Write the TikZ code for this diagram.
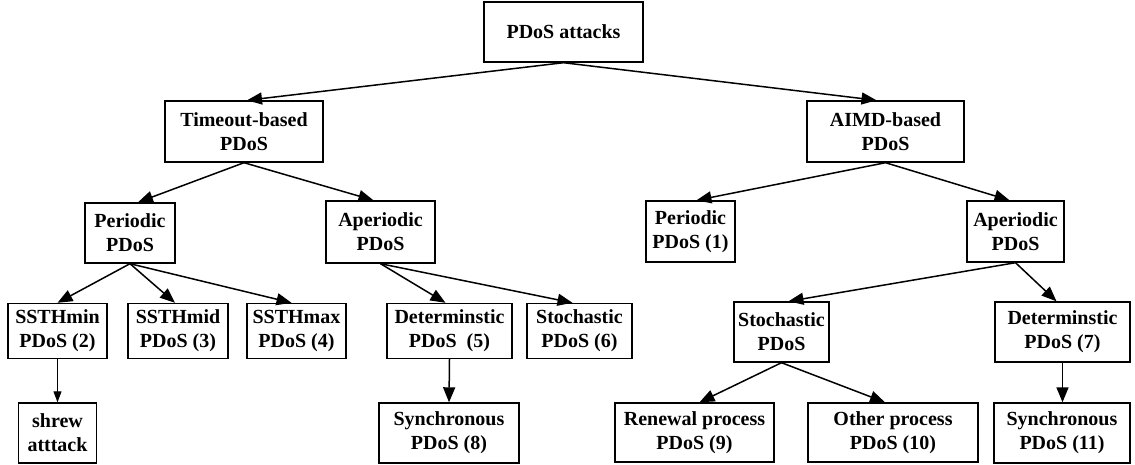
\documentclass[tikz,border=0pt]{standalone}
\usepackage{fontspec}
\setmainfont{Liberation Serif}
\usetikzlibrary{arrows.meta}
\begin{document}
\begin{tikzpicture}[x=1pt,y=-1pt,
  box/.style={draw, line width=1.4pt, rectangle, align=center, inner sep=0pt,
    font=\fontsize{20}{24}\selectfont\bfseries},
  link/.style={line width=1.5pt, -{Triangle[length=15pt,width=12pt]}},
  thinlink/.style={line width=0.9pt, -{Triangle[length=11pt,width=8pt]}}]
\useasboundingbox (0,0) rectangle (1135,465);

% level 0
\node[box, minimum width=159pt, minimum height=60pt] (root) at (563.5,32) {PDoS attacks};

% level 1
\node[box, minimum width=158pt, minimum height=61pt] (tmo) at (244,131.5) {Timeout-based\\PDoS};
\node[box, minimum width=157pt, minimum height=61pt] (aimd) at (885.5,131.5) {AIMD-based\\PDoS};

% level 2
\node[box, minimum width=90pt, minimum height=60pt] (perL) at (130,233) {Periodic\\PDoS};
\node[box, minimum width=109pt, minimum height=62pt] (aperL) at (380.5,232) {Aperiodic\\PDoS};
\node[box, minimum width=89pt, minimum height=61pt] (perR) at (690.5,231.5) {Periodic\\PDoS (1)};
\node[box, minimum width=97pt, minimum height=61pt] (aperR) at (1015.5,231.5) {Aperiodic\\PDoS};

% level 3
\node[box, minimum width=99pt, minimum height=55pt] (smin) at (57.5,331) {SSTHmin\\PDoS (2)};
\node[box, minimum width=100pt, minimum height=55pt] (smid) at (178,331) {SSTHmid\\PDoS (3)};
\node[box, minimum width=99pt, minimum height=55pt] (smax) at (296.5,331) {SSTHmax\\PDoS (4)};
\node[box, minimum width=125pt, minimum height=55pt] (det5) at (449.5,331) {Determinstic\\PDoS\ \ (5)};
\node[box, minimum width=105pt, minimum height=55pt] (sto6) at (579.5,331) {Stochastic\\PDoS (6)};
\node[box, minimum width=95pt, minimum height=60pt] (stoR) at (781.5,332) {Stochastic\\PDoS};
\node[box, minimum width=135pt, minimum height=60pt] (det7) at (1062.5,332) {Determinstic\\PDoS (7)};

% level 4
\node[box, minimum width=78pt, minimum height=60pt] (shrew) at (57.5,433) {shrew\\atttack};
\node[box, minimum width=140pt, minimum height=60pt] (syn8) at (449,433) {Synchronous\\PDoS (8)};
\node[box, minimum width=159pt, minimum height=59pt] (ren) at (694.5,432.5) {Renewal process\\PDoS (9)};
\node[box, minimum width=170pt, minimum height=59pt] (oth) at (893,432.5) {Other process\\PDoS (10)};
\node[box, minimum width=136pt, minimum height=60pt] (syn11) at (1062,433) {Synchronous\\PDoS (11)};

% connectors
\draw[link] (root.south) -- ([xshift=3pt]tmo.north);
\draw[link] (root.south) -- ([xshift=-9pt]aimd.north);
\draw[link] (tmo.south) -- ([xshift=8pt]perL.north);
\draw[link] (tmo.south) -- ([xshift=-7pt]aperL.north);
\draw[link] (aimd.south) -- ([xshift=6pt]perR.north);
\draw[link] (aimd.south) -- ([xshift=-6pt]aperR.north);
\draw[link] (perL.south) -- (smin.north);
\draw[link] (perL.south) -- ([xshift=-3pt]smid.north);
\draw[link] (perL.south) -- ([xshift=-5pt]smax.north);
\draw[link] (aperL.south) -- ([xshift=-4pt]det5.north);
\draw[link] (aperL.south) -- ([xshift=-7pt]sto6.north);
\draw[link] (aperR.south) -- ([xshift=7pt]stoR.north);
\draw[link] (aperR.south) -- ([xshift=-6pt]det7.north);
\draw[link] (stoR.south) -- ([xshift=5pt]ren.north);
\draw[link] (stoR.south) -- ([xshift=-8pt]oth.north);
\draw[thinlink] (smin.south) -- (shrew.north);
\draw[link] (det5.south) -- (syn8.north);
\draw[link] (det7.south) -- ([xshift=0.5pt]syn11.north);
\end{tikzpicture}
\end{document}
